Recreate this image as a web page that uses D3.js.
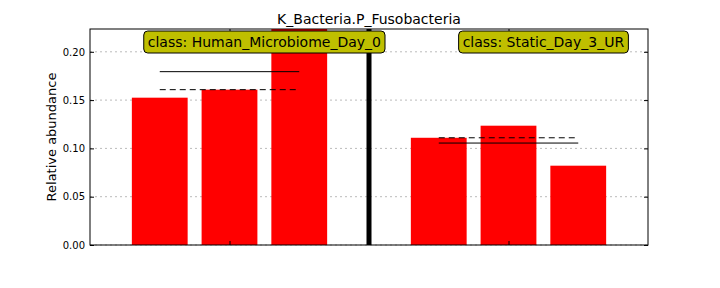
<!DOCTYPE html>
<html>
<head>
<meta charset="utf-8">
<script src="https://cdn.jsdelivr.net/npm/d3@7"></script>
<style>
  body { margin: 0; background: #fff; }
  text { font-family: "DejaVu Sans", sans-serif; fill: #000; }
</style>
</head>
<body>
<svg id="chart" width="720" height="288"></svg>
<script>
const TITLE = "K_Bacteria.P_Fusobacteria";
const Y_LABEL = "Relative abundance";
const classNames = ["Human_Microbiome_Day_0", "Static_Day_3_UR"];
const classValues = [
  [0.1525, 0.1608, 0.225],
  [0.111, 0.1235, 0.0821],
];
const yTicks = [0, 0.05, 0.1, 0.15, 0.2];
const Y_MAX = 0.2236;

const BAR_COLOR = "#ff0000";
const BOX_COLOR = "#bfbf00";
const BAR_WIDTH = 0.8;

const margin = { left: 90, right: 72, top: 29, bottom: 43 };
const svg = d3.select("#chart");
const width = +svg.attr("width");
const height = +svg.attr("height");
const x0 = margin.left, x1 = width - margin.right;
const y0 = height - margin.bottom, y1 = margin.top;

// each class takes its bars plus one empty slot used as the separator
const bars = [];
const groups = [];
let slot = 0;
classValues.forEach((vals, c) => {
  const start = slot;
  vals.forEach((v) => bars.push({ pos: slot++, value: v, cls: c }));
  groups.push({ start, end: slot - 1, vals, name: classNames[c] });
  slot++;
});
const separators = groups.slice(0, -1).map((g) => g.end + 1 + BAR_WIDTH / 2);

const x = d3.scaleLinear().domain([-0.6, slot - 0.6]).range([x0, x1]);
const y = d3.scaleLinear().domain([0, Y_MAX]).range([y0, y1]);

svg.append("defs").append("clipPath").attr("id", "plot-clip")
  .append("rect").attr("x", x0).attr("y", y1).attr("width", x1 - x0).attr("height", y0 - y1);

// grid
svg.append("g")
  .selectAll("line")
  .data(yTicks)
  .enter()
  .append("line")
  .attr("x1", x0).attr("x2", x1)
  .attr("y1", (d) => y(d)).attr("y2", (d) => y(d))
  .attr("stroke", "#bbbbbb")
  .attr("stroke-width", 1)
  .attr("stroke-dasharray", "2,3");

const plot = svg.append("g").attr("clip-path", "url(#plot-clip)");

plot.selectAll(".bar")
  .data(bars)
  .enter()
  .append("rect")
  .attr("class", "bar")
  .attr("x", (d) => x(d.pos))
  .attr("width", (d) => x(d.pos + BAR_WIDTH) - x(d.pos))
  .attr("y", (d) => y(d.value))
  .attr("height", (d) => y0 - y(d.value))
  .attr("fill", BAR_COLOR);

// separator line between classes
plot.selectAll(".sep")
  .data(separators)
  .enter()
  .append("line")
  .attr("x1", (d) => x(d)).attr("x2", (d) => x(d))
  .attr("y1", y0).attr("y2", y1)
  .attr("stroke", "#000")
  .attr("stroke-width", 5);

// mean (solid) and median (dashed) lines
groups.forEach((g) => {
  const xa = x(g.start + BAR_WIDTH / 2);
  const xb = x(g.end + BAR_WIDTH / 2);
  const mean = d3.mean(g.vals);
  const median = d3.median(g.vals);
  plot.append("line")
    .attr("x1", xa).attr("x2", xb)
    .attr("y1", y(mean)).attr("y2", y(mean))
    .attr("stroke", "#000").attr("stroke-width", 1);
  plot.append("line")
    .attr("x1", xa).attr("x2", xb)
    .attr("y1", y(median)).attr("y2", y(median))
    .attr("stroke", "#000").attr("stroke-width", 1)
    .attr("stroke-dasharray", "6,4");
});

// axes frame
svg.append("rect")
  .attr("x", x0).attr("y", y1)
  .attr("width", x1 - x0).attr("height", y0 - y1)
  .attr("fill", "none").attr("stroke", "#000").attr("stroke-width", 1);

// y axis left, ticks inside
const yAxis = svg.append("g")
  .attr("transform", `translate(${x0},0)`)
  .call(d3.axisLeft(y).tickValues(yTicks).tickFormat(d3.format(".2f")).tickSizeInner(-4).tickSizeOuter(0).tickPadding(5));
yAxis.select(".domain").remove();
yAxis.selectAll("text").attr("font-size", 10).attr("font-family", "DejaVu Sans");

const yAxisR = svg.append("g")
  .attr("transform", `translate(${x1},0)`)
  .call(d3.axisRight(y).tickValues(yTicks).tickFormat("").tickSizeInner(-4).tickSizeOuter(0));
yAxisR.select(".domain").remove();

// x ticks at class centres, bottom and top, inside
const xTicks = groups.map((g) => (g.start + g.end) / 2 + BAR_WIDTH / 2);
const xAxisB = svg.append("g")
  .attr("transform", `translate(0,${y0})`)
  .call(d3.axisBottom(x).tickValues(xTicks).tickFormat("").tickSizeInner(-4).tickSizeOuter(0));
xAxisB.select(".domain").remove();
const xAxisT = svg.append("g")
  .attr("transform", `translate(0,${y1})`)
  .call(d3.axisTop(x).tickValues(xTicks).tickFormat("").tickSizeInner(-4).tickSizeOuter(0));
xAxisT.select(".domain").remove();

// class labels in rounded boxes
groups.forEach((g) => {
  const cx = x((g.start + g.end) / 2 + BAR_WIDTH / 2 + 0.5);
  const lab = svg.append("g");
  const t = lab.append("text")
    .attr("x", cx).attr("y", 47)
    .attr("text-anchor", "middle")
    .attr("font-size", 14)
    .text(`class: ${g.name}`);
  const bb = t.node().getBBox();
  lab.insert("rect", "text")
    .attr("x", bb.x - 4).attr("y", 31)
    .attr("width", bb.width + 8).attr("height", 22)
    .attr("rx", 4).attr("ry", 4)
    .attr("fill", BOX_COLOR)
    .attr("stroke", "#000").attr("stroke-width", 1);
});

// title and y label
svg.append("text")
  .attr("x", (x0 + x1) / 2).attr("y", 24)
  .attr("text-anchor", "middle")
  .attr("font-size", 14)
  .text(TITLE);

svg.append("text")
  .attr("transform", `translate(56,${(y0 + y1) / 2}) rotate(-90)`)
  .attr("text-anchor", "middle")
  .attr("font-size", 13)
  .text(Y_LABEL);
</script>
</body>
</html>
